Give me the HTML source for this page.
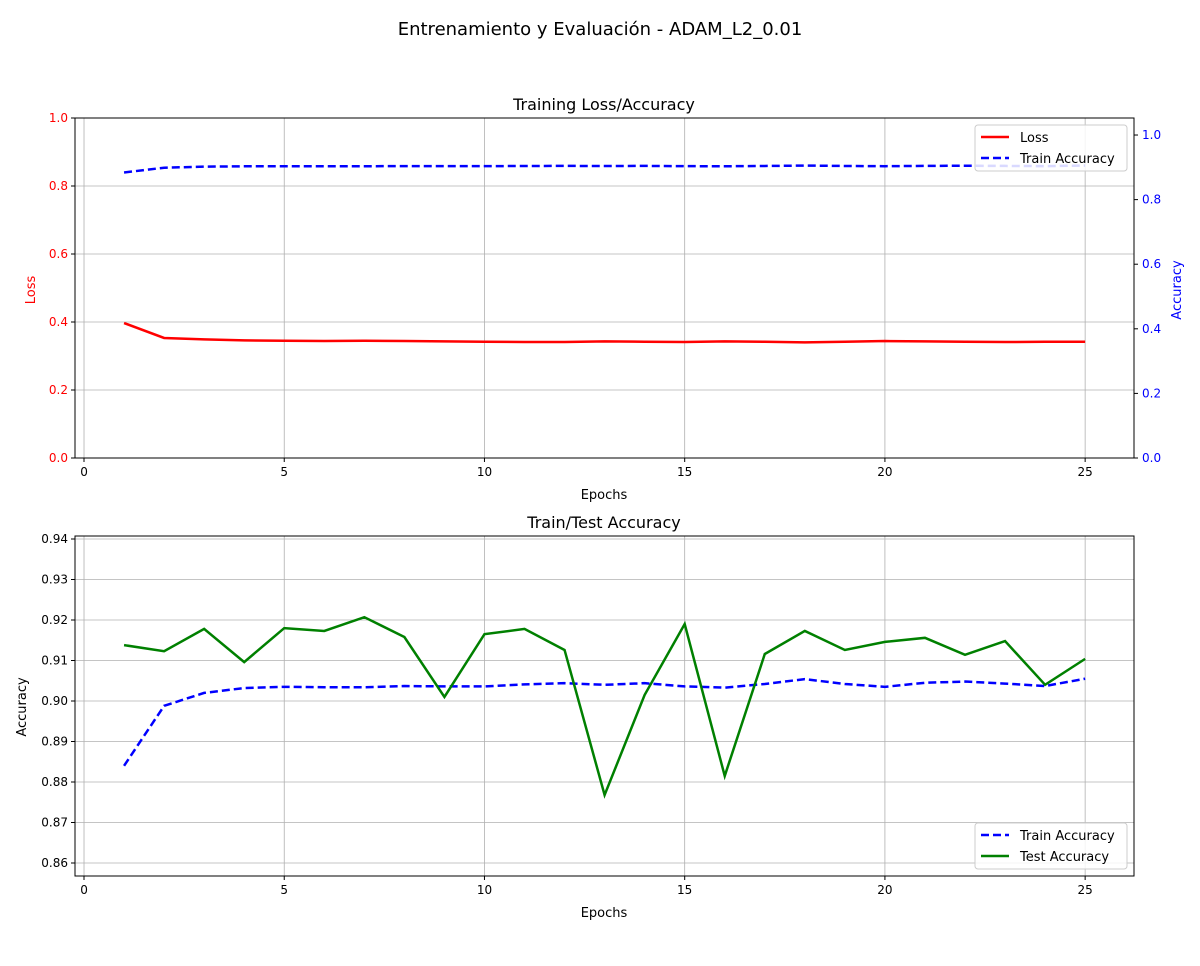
<!DOCTYPE html>
<html><head><meta charset="utf-8"><style>
body{margin:0;background:#fff;font-family:"Liberation Sans","DejaVu Sans",sans-serif;}
svg text{font-family:"DejaVu Sans","Liberation Sans",sans-serif;}
</style></head><body>
<svg id="chart" width="1200" height="961" xmlns="http://www.w3.org/2000/svg">
<text x="600" y="35" font-size="18" text-anchor="middle">Entrenamiento y Evaluación - ADAM_L2_0.01</text>
<g id="top"></g>
<g id="bot"></g>
</svg>
<script>
const epochs=[1,2,3,4,5,6,7,8,9,10,11,12,13,14,15,16,17,18,19,20,21,22,23,24,25];
const lossVals=[0.397,0.353,0.349,0.346,0.345,0.344,0.345,0.344,0.343,0.342,0.341,0.341,0.343,0.342,0.341,0.343,0.342,0.340,0.342,0.344,0.343,0.342,0.341,0.342,0.342];
const trainAcc=[0.884,0.8988,0.902,0.9032,0.9035,0.9034,0.9034,0.9037,0.9036,0.9036,0.9041,0.9044,0.904,0.9044,0.9036,0.9033,0.9042,0.9054,0.9042,0.9035,0.9045,0.9048,0.9043,0.9037,0.9055];
const testAcc=[0.9138,0.9123,0.9178,0.9096,0.918,0.9173,0.9207,0.9158,0.901,0.9165,0.9178,0.9126,0.8768,0.9015,0.919,0.8815,0.9116,0.9173,0.9126,0.9146,0.9156,0.9114,0.9148,0.904,0.9104];
const xTicks=[0,5,10,15,20,25];
const lossTicks=[0.0,0.2,0.4,0.6,0.8,1.0];
const accRightTicks=[0.0,0.2,0.4,0.6,0.8,1.0];
const botTicks=[0.86,0.87,0.88,0.89,0.90,0.91,0.92,0.93,0.94];

const NS='http://www.w3.org/2000/svg';
function mk(p,t,a){const e=document.createElementNS(NS,t);for(const k in a)e.setAttribute(k,a[k]);p.appendChild(e);return e;}
const L=75,R=1134;
const xs=v=>L+(v+0.225)/(26.445)*(R-L);
function lin(d0,d1,r0,r1){return v=>r0+(v-d0)/(d1-d0)*(r1-r0);}

function frame(g,T,B,ys,yt,fmt,col){
  xTicks.forEach(t=>{
    const gl=mk(g,'line',{x1:xs(t),x2:xs(t),y1:T,y2:B,stroke:'#b0b0b0','stroke-width':0.8});
    
    mk(g,'line',{x1:xs(t),x2:xs(t),y1:B,y2:B+4,stroke:'#000'});
    const tx=mk(g,'text',{x:xs(t),y:B+18,'font-size':12,'text-anchor':'middle'});tx.textContent=t;
    
  });
  yt.forEach(t=>{
    const gl=mk(g,'line',{x1:L,x2:R,y1:ys(t),y2:ys(t),stroke:'#b0b0b0','stroke-width':0.8});
    
    mk(g,'line',{x1:L-4,x2:L,y1:ys(t),y2:ys(t),stroke:'#000'});
    const tx=mk(g,'text',{x:L-7,y:ys(t)+4,'font-size':12,'text-anchor':'end',fill:col});tx.textContent=fmt(t);
    
  });
}
function line(g,ys,vals,col,dash,name){
  const p=mk(g,'polyline',{points:epochs.map((e,i)=>xs(e)+','+ys(vals[i])).join(' '),fill:'none',stroke:col,'stroke-width':2.5,'stroke-dasharray':dash||'none'});
  
}
function legend(g,x,y,items){
  const r=mk(g,'rect',{x:x,y:y,width:152,height:46,fill:'#fff','fill-opacity':0.85,stroke:'#ccc',rx:3});
  
  items.forEach((it,i)=>{
    const yy=y+12+i*21;
    mk(g,'line',{x1:x+6,x2:x+34,y1:yy,y2:yy,stroke:it[1],'stroke-width':2.5,'stroke-dasharray':it[2]||'none'});
    const t=mk(g,'text',{x:x+45,y:yy+5,'font-size':13});t.textContent=it[0];
    
  });
}
// top
const g1=document.getElementById('top');
const T1=118,B1=458;
const yl=lin(0,1,B1,T1), yr=lin(0,1.0527,B1,T1);
frame(g1,T1,B1,yl,lossTicks,v=>v.toFixed(1),'red');
accRightTicks.forEach(t=>{
  mk(g1,'line',{x1:R,x2:R+4,y1:yr(t),y2:yr(t),stroke:'#000'});
  const tx=mk(g1,'text',{x:R+8,y:yr(t)+4,'font-size':12,fill:'blue'});tx.textContent=t.toFixed(1);
  
});
line(g1,yl,lossVals,'red',null,'loss-line');
line(g1,yr,trainAcc,'blue','8,4','train-accuracy-line');
mk(g1,'rect',{x:L,y:T1,width:R-L,height:B1-T1,fill:'none',stroke:'#000','stroke-width':1});
let t;
t=mk(g1,'text',{x:604,y:110,'font-size':16,'text-anchor':'middle'});t.textContent='Training Loss/Accuracy';
t=mk(g1,'text',{x:604,y:499,'font-size':13,'text-anchor':'middle'});t.textContent='Epochs';
t=mk(g1,'text',{x:35,y:290,'font-size':13,'text-anchor':'middle',fill:'red',transform:'rotate(-90 35 290)'});t.textContent='Loss';
t=mk(g1,'text',{x:1181,y:290,'font-size':13,'text-anchor':'middle',fill:'blue',transform:'rotate(-90 1181 290)'});t.textContent='Accuracy';
legend(g1,975,125,[['Loss','red'],['Train Accuracy','blue','8,4']]);
// bottom
const g2=document.getElementById('bot');
const T2=536,B2=876;
const yb=lin(0.86,0.94,863,539);
frame(g2,T2,B2,yb,botTicks,v=>v.toFixed(2),'#000');
line(g2,yb,trainAcc,'blue','8,4','train-accuracy-line');
line(g2,yb,testAcc,'green',null,'test-accuracy-line');
mk(g2,'rect',{x:L,y:T2,width:R-L,height:B2-T2,fill:'none',stroke:'#000','stroke-width':1});
t=mk(g2,'text',{x:604,y:528,'font-size':16,'text-anchor':'middle'});t.textContent='Train/Test Accuracy';
t=mk(g2,'text',{x:604,y:917,'font-size':13,'text-anchor':'middle'});t.textContent='Epochs';
t=mk(g2,'text',{x:26,y:707,'font-size':13,'text-anchor':'middle',transform:'rotate(-90 26 707)'});t.textContent='Accuracy';
legend(g2,975,823,[['Train Accuracy','blue','8,4'],['Test Accuracy','green']]);
</script>
</body></html>
